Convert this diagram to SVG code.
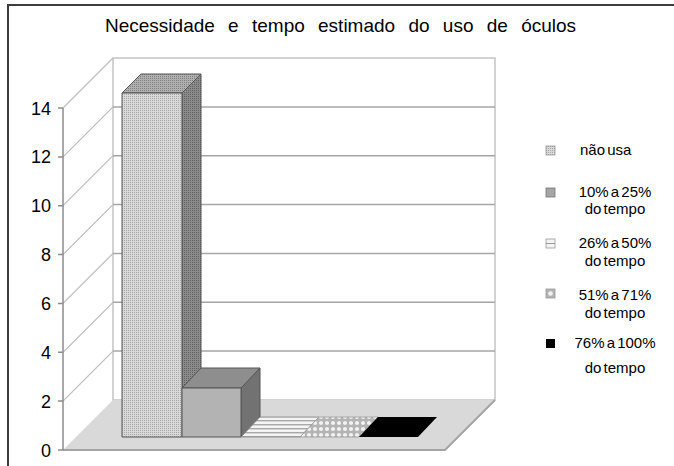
<svg xmlns="http://www.w3.org/2000/svg" width="674" height="466" viewBox="0 0 674 466">
<defs>
<style>
.lbl{font-family:"Liberation Sans",Arial,sans-serif;font-size:18px;fill:#000}
.ttl{font-family:"Liberation Sans",Arial,sans-serif;font-size:19px;fill:#000;word-spacing:8px}
.leg{font-family:"Liberation Sans",Arial,sans-serif;font-size:15px;fill:#000;word-spacing:-2px}
.grid{stroke:#a6a6a6;stroke-width:1.5;fill:none}
.side{stroke:#bdbdbd;stroke-width:1.2;fill:none}
.edge{stroke:#555;stroke-width:1;stroke-linejoin:round}
</style>
<pattern id="p1f" width="2" height="2" patternUnits="userSpaceOnUse"><rect width="2" height="2" fill="#d9d9d9"/><rect width="1" height="1" fill="#a6a6a6"/></pattern>
<pattern id="p1s" width="2" height="2" patternUnits="userSpaceOnUse"><rect width="2" height="2" fill="#8c8c8c"/><rect width="1" height="1" fill="#5e5e5e"/></pattern>
<pattern id="p1t" width="2" height="2" patternUnits="userSpaceOnUse"><rect width="2" height="2" fill="#b0b0b0"/><rect width="1" height="1" fill="#808080"/></pattern>
<pattern id="pStripe" width="6" height="4" patternUnits="userSpaceOnUse"><rect width="6" height="4" fill="#f4f4f4"/><rect width="6" height="1.4" fill="#a8a8a8"/></pattern>
<pattern id="pCirc" width="6" height="6" patternUnits="userSpaceOnUse"><rect width="6" height="6" fill="#b4b4b4"/><circle cx="3" cy="3" r="2.1" fill="#f2f2f2"/></pattern>
</defs>
<rect width="674" height="466" fill="#fff"/>
<g id="frame"><rect x="8" y="5" width="690" height="490" fill="none" stroke="#3c3c3c" stroke-width="2"/></g>
<g id="title"><text class="ttl" x="105" y="32">Necessidade e tempo estimado do uso de óculos</text></g>

<g id="walls">
<rect x="113" y="58" width="382" height="342" fill="#fff" stroke="#c4c4c4" stroke-width="1.5"/>
<path class="grid" d="M113 351.1H495M113 302.3H495M113 253.4H495M113 204.6H495M113 155.7H495M113 106.9H495"/>
<path class="side" d="M63 401.1L113 351.1M63 352.3L113 302.3M63 303.4L113 253.4M63 254.6L113 204.6M63 205.7L113 155.7M63 156.9L113 106.9M63 108L113 58"/>
</g>

<g id="floor">
<polygon points="63,450 445,450 495,400 113,400" fill="#d9d9d9"/>
<path d="M63 450H445L495 400" fill="none" stroke="#a4a4a4" stroke-width="2"/>
</g>

<g id="axis">
<path d="M63 108V450M58 450H63M58 401.1H63M58 352.3H63M58 303.4H63M58 254.6H63M58 205.7H63M58 156.9H63M58 108H63" stroke="#8c8c8c" stroke-width="1.5" fill="none"/>
<text class="lbl" text-anchor="end" x="51" y="457">0</text>
<text class="lbl" text-anchor="end" x="51" y="408">2</text>
<text class="lbl" text-anchor="end" x="51" y="359">4</text>
<text class="lbl" text-anchor="end" x="51" y="310">6</text>
<text class="lbl" text-anchor="end" x="51" y="261">8</text>
<text class="lbl" text-anchor="end" x="51" y="212">10</text>
<text class="lbl" text-anchor="end" x="51" y="163">12</text>
<text class="lbl" text-anchor="end" x="51" y="115">14</text>
</g>

<g id="bar-nao-usa">
<polygon class="edge" points="182,93 201,74 201,418 182,437" fill="url(#p1s)"/>
<polygon class="edge" points="122,93 182,93 201,74 141,74" fill="url(#p1t)"/>
<rect class="edge" x="122" y="93" width="60" height="344" fill="url(#p1f)"/>
</g>
<g id="bar-10-25">
<polygon class="edge" points="241,388 260,368 260,418 241,437" fill="#727272"/>
<polygon class="edge" points="182,388 241,388 260,368 201,368" fill="#8e8e8e"/>
<rect class="edge" x="182" y="388" width="59" height="49" fill="#b3b3b3"/>
</g>
<g id="bar-26-50">
<polygon points="241,437 300,437 319,417 260,417" fill="url(#pStripe)" stroke="#888" stroke-width="0.8"/>
</g>
<g id="bar-51-71">
<polygon points="300,437 359,437 378,417 319,417" fill="url(#pCirc)" stroke="#999" stroke-width="0.8"/>
</g>
<g id="bar-76-100">
<polygon points="359,437 418,437 437,417 378,417" fill="#000"/>
</g>

<g id="legend">
<g id="leg-nao-usa"><rect x="546" y="146" width="9" height="9" fill="url(#p1f)" stroke="#999" stroke-width="0.8"/><text class="leg" x="580" y="155">não usa</text></g>
<g id="leg-10-25"><rect x="546" y="188" width="9" height="9" fill="#a6a6a6" stroke="#777" stroke-width="0.8"/><text class="leg" x="615" y="197" text-anchor="middle">10% a 25%</text><text class="leg" x="615" y="214" text-anchor="middle">do tempo</text></g>
<g id="leg-26-50"><rect x="546" y="239" width="9" height="9" fill="#f4f4f4" stroke="#999" stroke-width="0.8"/><path d="M546 243.5H555" stroke="#999" stroke-width="1"/><text class="leg" x="615" y="248" text-anchor="middle">26% a 50%</text><text class="leg" x="615" y="266" text-anchor="middle">do tempo</text></g>
<g id="leg-51-71"><rect x="546" y="289" width="9" height="9" fill="#b4b4b4" stroke="#999" stroke-width="0.8"/><circle cx="550.5" cy="293.5" r="2.3" fill="#f2f2f2"/><text class="leg" x="615" y="300" text-anchor="middle">51% a 71%</text><text class="leg" x="615" y="318" text-anchor="middle">do tempo</text></g>
<g id="leg-76-100"><rect x="546" y="339" width="9" height="9" fill="#000"/><text class="leg" x="615" y="348" text-anchor="middle">76% a 100%</text><text class="leg" x="615" y="373" text-anchor="middle">do tempo</text></g>
</g>
</svg>
